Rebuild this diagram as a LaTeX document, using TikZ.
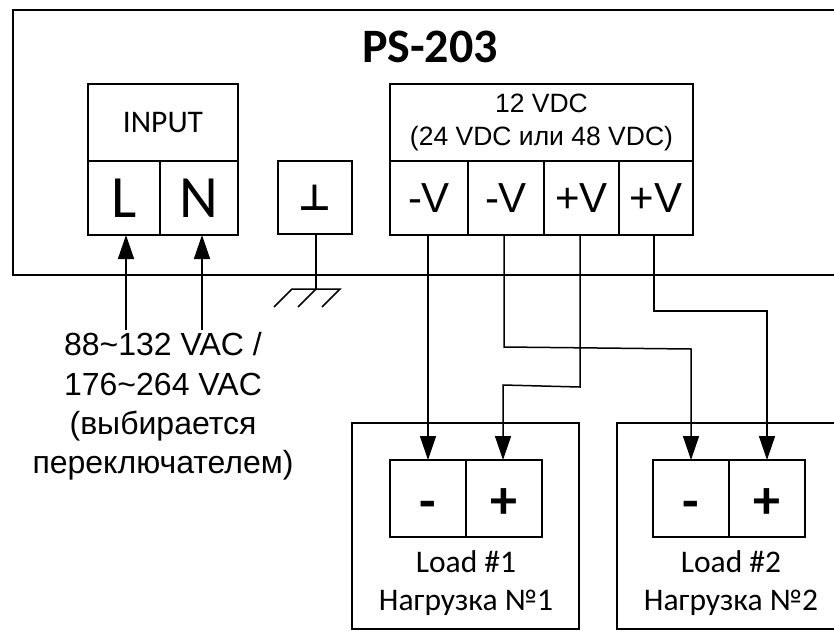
\documentclass[tikz,border=0pt]{standalone}
\usepackage{fontspec}
\setmainfont{Liberation Sans}
\newfontfamily\calfont{Carlito}
\newfontfamily\djfont{DejaVu Sans}
\usetikzlibrary{arrows.meta}
\tikzset{
  x=1pt,y=-1pt,
  term/.style={draw=black,line width=1.5pt,rectangle,inner sep=0pt,outer sep=0pt,align=center,text=black},
  wire/.style={line width=1.5pt,line join=miter},
  arrowed/.style={wire,-{Triangle[length=24pt,width=16pt]}},
  thick line/.style={line width=1.5pt},
  frame/.style={line width=1.3pt}
}
\newcommand{\tbox}[6]{% name,x1,y1,x2,y2,text
  \node[term,minimum width={(#4)-(#2)},minimum height={(#5)-(#3)}] (#1) at ({((#2)+(#4))/2},{((#3)+(#5))/2}) {#6};}
\begin{document}
\begin{tikzpicture}
\useasboundingbox (0,0) rectangle (834,631);
% main enclosure, open at the right edge
\coordinate (mainTR) at (836,10);
\coordinate (mainBR) at (836,275);
\draw[thick line] (mainTR) -- (13,10) -- (13,275) -- (mainBR);
\node[font=\calfont\bfseries\fontsize{48}{52}\selectfont,text=black] (title) at (430,47) {PS-203};
% input
\tbox{inhead}{88}{84}{238}{161}{\calfont\fontsize{31.5}{36}\selectfont INPUT}
\tbox{inL}{88}{161}{160}{235}{\calfont\fontsize{60}{66}\selectfont L}
\tbox{inN}{160}{161}{238}{235}{\calfont\fontsize{60}{66}\selectfont N}
% earth
\tbox{gnd}{278}{161}{352}{234}{\djfont\bfseries\fontsize{36}{40}\selectfont\char"22A5}
% output
\node[term,minimum width=303pt,minimum height=77pt,font=\fontsize{26.5}{33}\selectfont] (outhead) at (541.5,122.5) {12 VDC\\(24 VDC или 48 VDC)};
\tbox{o1}{390}{161}{468}{235}{\fontsize{42}{46}\selectfont -V}
\tbox{o2}{468}{161}{544}{235}{\fontsize{42}{46}\selectfont -V}
\tbox{o3}{544}{161}{619}{235}{\fontsize{42}{46}\selectfont +V}
\tbox{o4}{619}{161}{693}{235}{\fontsize{42}{46}\selectfont +V}
% loads
\node[term,line width=1.3pt,minimum width=227pt,minimum height=206pt] (load1) at (465.5,526) {};
\coordinate (load2TR) at (836,423);
\coordinate (load2BR) at (836,629);
\draw[frame] (load2TR) -- (617,423) -- (617,629) -- (load2BR);
\tbox{l1m}{390}{460}{466}{537}{\calfont\bfseries\fontsize{54}{60}\selectfont\raisebox{-20.5pt}[0pt][0pt]{-}}
\tbox{l1p}{466}{460}{542}{537}{\calfont\bfseries\fontsize{54}{60}\selectfont\raisebox{-19.5pt}[0pt][0pt]{+}}
\tbox{l2m}{653}{460}{729}{537}{\calfont\bfseries\fontsize{54}{60}\selectfont\raisebox{-20.5pt}[0pt][0pt]{-}}
\tbox{l2p}{729}{460}{805}{537}{\calfont\bfseries\fontsize{54}{60}\selectfont\raisebox{-19.5pt}[0pt][0pt]{+}}
\node[font=\calfont\fontsize{31.5}{38}\selectfont,align=center,text=black] (l1t) at (466,583.5) {Load \#1\\Нагрузка №1};
\node[font=\calfont\fontsize{31.5}{38}\selectfont,align=center,text=black] (l2t) at (731,583.5) {Load \#2\\Нагрузка №2};
% supply label
\node[font=\fontsize{32}{39.3}\selectfont,align=center,text=black] (ac) at (163,406.5) {88\textasciitilde132 VAC /\\176\textasciitilde264 VAC\\(выбирается\\переключателем)};
% supply connectors
\coordinate (acL) at (126,330);
\coordinate (acN) at (202,330);
\draw[arrowed] (acL) -- (acL |- inL.south);
\draw[arrowed] (acN) -- (acN |- inN.south);
% earth symbol
\coordinate (earth) at (316,289);
\draw[wire] (earth |- gnd.south) -- (earth);
\draw[wire] (274,307) -- (292,289) -- (340,289) -- (322,307);
\draw[wire] (earth) -- (298,307);
% outputs to loads
\draw[arrowed] ([xshift=-1pt]o1.south) -- (l1m.north);
\draw[arrowed] ([xshift=-2pt]o2.south) -- (504,347) -- (691,349) -- (l2m.north);
\draw[arrowed] ([xshift=-1.5pt]o3.south) -- (580,387) -- (503,385) -- ([xshift=-1pt]l1p.north);
\draw[arrowed] ([xshift=-2pt]o4.south) -- (654,311) -- (767,311) -- (l2p.north);
\end{tikzpicture}
\end{document}
